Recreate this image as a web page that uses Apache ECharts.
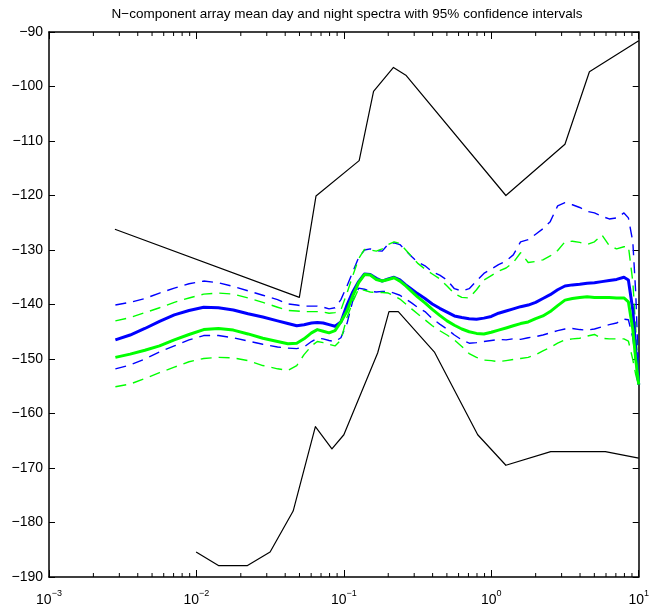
<!DOCTYPE html>
<html>
<head>
<meta charset="utf-8">
<script src="https://cdn.jsdelivr.net/npm/echarts@6/dist/echarts.min.js"></script>
<style>
  html, body { margin: 0; padding: 0; background: #fff; }
  #chart { width: 652px; height: 609px; }
</style>
</head>
<body>
<div id="chart"></div>
<script>
// Frequency grid (Hz) shared by the mean spectra and their confidence bounds
const freq = [0.00282,0.00355,0.00447,0.00562,0.00708,0.00891,0.0112,0.0141,0.0178,0.0224,
  0.0282,0.0355,0.0417,0.0479,0.0537,0.0603,0.0661,0.0724,0.0794,0.0871,
  0.0955,0.105,0.115,0.126,0.138,0.151,0.166,0.182,0.200,0.219,
  0.240,0.263,0.288,0.316,0.355,0.398,0.447,0.501,0.562,0.631,
  0.708,0.794,0.891,1.00,1.12,1.26,1.41,1.58,1.78,2.00,
  2.24,2.51,2.82,3.16,3.55,3.98,4.47,5.01,5.62,6.31,
  7.08,7.94,8.51,9.12,9.55,10.0];

// Day spectrum (dB): mean and 95% bounds
const dayMean = [-146.5,-145.6,-144.4,-143.1,-141.9,-141.1,-140.5,-140.6,-141.0,-141.7,
  -142.3,-143.0,-143.5,-143.9,-143.7,-143.4,-143.3,-143.4,-143.7,-144.0,
  -143.2,-140.1,-137.7,-135.8,-134.4,-134.5,-135.2,-135.7,-135.3,-135.0,
  -135.5,-136.4,-137.2,-138.0,-138.9,-139.9,-140.7,-141.4,-142.1,-142.4,
  -142.6,-142.7,-142.5,-142.2,-141.6,-141.2,-140.8,-140.4,-140.1,-139.6,
  -138.9,-138.2,-137.3,-136.6,-136.4,-136.3,-136.1,-136.0,-135.8,-135.6,
  -135.4,-135.0,-135.5,-141.0,-148.3,-154.7];
const dayUpper = [-140.1,-139.6,-138.9,-137.9,-137.0,-136.2,-135.7,-136.0,-136.7,-137.5,
  -138.3,-139.1,-139.9,-140.1,-140.3,-140.3,-140.3,-140.5,-140.8,-140.6,
  -139.1,-136.6,-134.0,-131.4,-130.0,-129.8,-130.1,-130.2,-128.9,-128.7,
  -129.0,-130.1,-131.2,-132.2,-132.9,-134.0,-134.6,-135.5,-137.1,-137.5,
  -137.1,-135.7,-134.3,-133.5,-132.7,-132.0,-130.9,-128.5,-128.1,-127.1,
  -126.1,-124.8,-121.9,-121.3,-121.7,-122.2,-122.9,-123.2,-123.8,-124.3,
  -124.1,-123.2,-124.1,-128.5,-138.0,-153.0];
const dayLower = [-151.8,-151.1,-150.0,-148.7,-147.6,-146.5,-145.7,-145.7,-146.1,-146.7,
  -147.3,-147.8,-148.0,-148.1,-147.8,-146.8,-146.2,-146.3,-146.6,-146.8,
  -146.1,-143.5,-139.3,-137.0,-137.2,-137.6,-137.7,-137.6,-137.6,-137.9,
  -138.3,-139.0,-139.7,-140.5,-141.3,-142.6,-143.6,-144.5,-145.6,-146.5,
  -147.1,-147.0,-146.8,-146.6,-146.4,-146.5,-146.3,-146.4,-146.1,-145.9,
  -145.6,-145.2,-144.8,-144.5,-144.4,-144.6,-144.7,-144.5,-144.1,-143.7,
  -143.4,-142.7,-142.8,-146.1,-150.5,-154.7];

// Night spectrum (dB): mean and 95% bounds
const nightMean = [-149.7,-149.1,-148.4,-147.6,-146.5,-145.5,-144.6,-144.4,-144.7,-145.4,
  -146.2,-146.8,-147.2,-147.1,-146.3,-145.2,-144.6,-144.9,-145.2,-144.8,
  -143.2,-141.2,-138.4,-136.0,-134.5,-134.6,-135.4,-135.7,-135.4,-135.1,
  -135.7,-136.6,-137.6,-138.6,-139.7,-140.9,-142.0,-143.0,-143.8,-144.5,
  -145.0,-145.3,-145.4,-145.1,-144.7,-144.3,-143.9,-143.5,-143.2,-142.6,
  -142.1,-141.3,-140.2,-139.2,-138.9,-138.7,-138.6,-138.7,-138.7,-138.7,
  -138.8,-138.8,-139.5,-144.6,-150.1,-154.7];
const nightUpper = [-143.0,-142.4,-141.5,-140.6,-139.6,-138.8,-138.1,-137.9,-138.1,-138.8,
  -139.6,-140.5,-141.1,-141.2,-141.3,-141.3,-141.3,-141.4,-141.6,-141.5,
  -141.0,-137.9,-134.7,-131.6,-129.9,-130.0,-130.2,-129.8,-129.0,-128.5,
  -128.8,-130.0,-131.2,-132.4,-133.5,-134.4,-135.3,-136.6,-138.0,-138.7,
  -138.8,-137.3,-135.5,-134.7,-133.9,-133.3,-132.3,-130.5,-132.3,-132.1,
  -131.8,-131.1,-130.1,-128.5,-128.4,-128.6,-129.0,-128.5,-127.2,-129.2,
  -129.8,-129.4,-129.3,-135.8,-144.6,-153.8];
const nightLower = [-155.1,-154.6,-153.6,-152.5,-151.5,-150.5,-149.9,-149.7,-149.8,-150.3,
  -151.2,-151.8,-152.1,-151.2,-149.2,-147.6,-146.8,-147.0,-147.3,-147.6,
  -146.5,-142.4,-139.5,-137.1,-137.4,-137.7,-137.8,-137.8,-137.9,-138.4,
  -139.0,-139.9,-140.8,-141.7,-142.8,-143.9,-144.8,-145.6,-146.5,-147.7,
  -149.0,-149.7,-150.2,-150.3,-150.5,-150.3,-150.1,-149.9,-149.7,-149.2,
  -148.5,-147.9,-147.1,-146.5,-146.3,-146.2,-145.8,-145.5,-146.2,-146.3,
  -146.3,-146.3,-146.7,-150.1,-152.9,-154.9];

// Black envelope curves (frequency, dB)
const envHighFreq = [0.0028,0.0499,0.0647,0.127,0.159,0.217,0.265,1.256,3.16,4.63,10];
const envHighVal  = [-126.2,-138.7,-120.1,-113.6,-100.9,-96.5,-98.0,-120.0,-110.6,-97.3,-91.6];
const envLowFreq  = [0.00995,0.0141,0.0222,0.0316,0.0453,0.0641,0.083,0.1,0.1695,0.2023,0.234,0.413,0.809,1.256,2.53,5.94,10];
const envLowVal   = [-185.4,-187.9,-187.9,-185.4,-177.9,-162.4,-166.5,-163.9,-148.9,-141.3,-141.3,-148.8,-163.9,-169.5,-167.0,-167.0,-168.2];

// Axis ranges and log minor ticks
const xMin = 0.001, xMax = 10;
const yMin = -190, yMax = -90, yStep = 10;
const xMinorTicks = [0.002,0.003,0.004,0.005,0.006,0.007,0.008,0.009,
  0.02,0.03,0.04,0.05,0.06,0.07,0.08,0.09,
  0.2,0.3,0.4,0.5,0.6,0.7,0.8,0.9,
  2,3,4,5,6,7,8,9];
const titleText = 'N\u2212component array mean day and night spectra with 95% confidence intervals';

const FONT = '"Liberation Sans", Arial, Helvetica, sans-serif';

function pairs(xs, ys) { return xs.map((x, i) => [x, ys[i]]); }

function lineSeries(name, xs, ys, color, width, dashed, z) {
  return {
    name, type: 'line', data: pairs(xs, ys),
    showSymbol: false, symbol: 'none', silent: true, z,
    lineStyle: { color, width, type: dashed ? [11, 7] : 'solid', cap: 'butt', join: 'round' }
  };
}

const chart = echarts.init(document.getElementById('chart'), null, { renderer: 'canvas' });

const axisLine = { show: true, onZero: false, lineStyle: { color: '#000', width: 1.5 } };

chart.setOption({
  animation: false,
  backgroundColor: '#fff',
  textStyle: { fontFamily: FONT },
  graphic: [{
    type: 'text', x: 347, y: 14,
    style: {
      text: titleText, fill: '#000', font: '13.5px ' + FONT,
      align: 'center', verticalAlign: 'middle', textAlign: 'center', textVerticalAlign: 'middle'
    }
  }],
  grid: { left: 49, right: 10, top: 32, bottom: 32, containLabel: false },
  xAxis: [{
    type: 'log', logBase: 10, min: xMin, max: xMax, position: 'bottom',
    axisLine, splitLine: { show: false },
    axisTick: { show: true, inside: true, length: 7, lineStyle: { color: '#000', width: 1 } },
    axisLabel: {
      show: true, color: '#000', margin: 12,
      formatter: v => '{b|10}{e|' + String(Math.round(Math.log10(v))).replace('-', '\u2212') + '}',
      rich: {
        b: { fontSize: 14, fontFamily: FONT, color: '#000', lineHeight: 18, verticalAlign: 'bottom' },
        e: { fontSize: 9, fontFamily: FONT, color: '#000', lineHeight: 18, verticalAlign: 'top', padding: [0, 0, 8, 0] }
      }
    }
  }, {
    type: 'log', logBase: 10, min: xMin, max: xMax, position: 'top',
    axisLine, splitLine: { show: false },
    axisTick: { show: true, inside: true, length: 7, lineStyle: { color: '#000', width: 1 } },
    axisLabel: { show: false }
  }],
  yAxis: [{
    type: 'value', min: yMin, max: yMax, interval: yStep, position: 'left',
    axisLine, splitLine: { show: false },
    axisTick: { show: true, inside: true, length: 6, lineStyle: { color: '#000', width: 1 } },
    axisLabel: {
      color: '#000', fontSize: 14, margin: 6,
      formatter: v => String(v).replace('-', '\u2212')
    }
  }, {
    type: 'value', min: yMin, max: yMax, interval: yStep, position: 'right',
    axisLine, splitLine: { show: false },
    axisTick: { show: true, inside: true, length: 6, lineStyle: { color: '#000', width: 1 } },
    axisLabel: { show: false }
  }],
  series: [
    // minor log ticks on bottom and top edges
    {
      type: 'custom', silent: true, clip: false, z: 5,
      data: xMinorTicks.map(f => [f, yMin]),
      encode: { x: 0, y: 1 },
      renderItem(params, api) {
        const f = api.value(0);
        const b = api.coord([f, yMin]);
        const t = api.coord([f, yMax]);
        return {
          type: 'group',
          children: [
            { type: 'line', shape: { x1: b[0], y1: b[1], x2: b[0], y2: b[1] - 4 }, style: { stroke: '#000', lineWidth: 1 } },
            { type: 'line', shape: { x1: t[0], y1: t[1], x2: t[0], y2: t[1] + 4 }, style: { stroke: '#000', lineWidth: 1 } }
          ]
        };
      }
    },
    lineSeries('envHigh', envHighFreq, envHighVal, '#000', 1.2, false, 2),
    lineSeries('envLow', envLowFreq, envLowVal, '#000', 1.2, false, 2),
    lineSeries('dayUpper', freq, dayUpper, '#0000ff', 1.4, true, 3),
    lineSeries('dayLower', freq, dayLower, '#0000ff', 1.4, true, 3),
    lineSeries('nightUpper', freq, nightUpper, '#00ff00', 1.4, true, 3),
    lineSeries('nightLower', freq, nightLower, '#00ff00', 1.4, true, 3),
    lineSeries('dayMean', freq, dayMean, '#0000ff', 3, false, 4),
    lineSeries('nightMean', freq, nightMean, '#00ff00', 3, false, 4)
  ]
});
</script>
</body>
</html>
